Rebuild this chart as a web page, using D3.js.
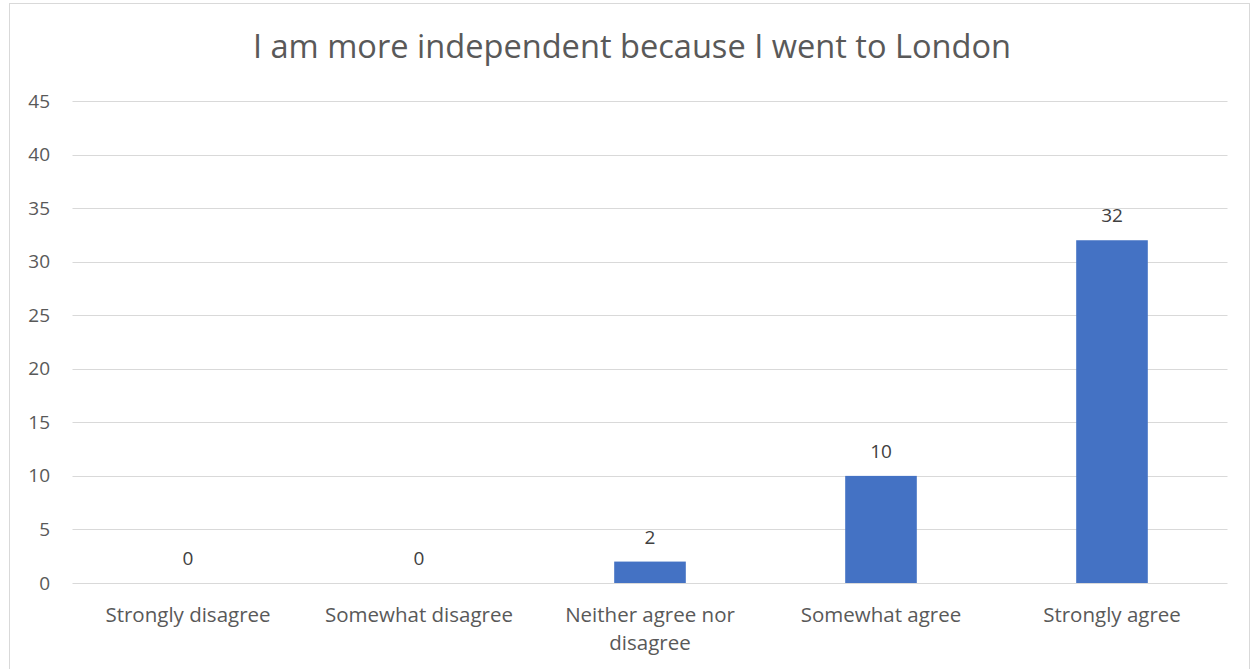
<!DOCTYPE html>
<html>
<head>
<meta charset="utf-8">
<script src="https://cdn.jsdelivr.net/npm/d3@7"></script>
<style>
  html, body { margin: 0; padding: 0; background: #fff; }
  svg { display: block; }
  text { font-family: "Open Sans", "Noto Sans", sans-serif; }
</style>
</head>
<body>
<svg id="chart" width="1252" height="669"></svg>
<script>
// Survey responses
const categories = [
  ["Strongly disagree"],
  ["Somewhat disagree"],
  ["Neither agree nor", "disagree"],
  ["Somewhat agree"],
  ["Strongly agree"]
];
const counts = [0, 0, 2, 10, 32];
const yTicks = [0, 5, 10, 15, 20, 25, 30, 35, 40, 45];
const chartTitle = "I am more independent because I went to London";

const svg = d3.select("#chart");
const plot = { left: 72.5, right: 1227.5, top: 101, bottom: 583 };

// Chart frame (bottom edge falls outside the view)
svg.append("rect")
  .attr("x", 9.5).attr("y", 3.5)
  .attr("width", 1240).attr("height", 700)
  .attr("fill", "#fff").attr("stroke", "#d9d9d9").attr("stroke-width", 1);

const labels = categories.map(c => c.join(" "));
const x = d3.scaleBand().domain(labels).range([plot.left, plot.right]).paddingInner(0).paddingOuter(0);
const y = d3.scaleLinear().domain([0, 45]).range([plot.bottom, plot.top]);

// Horizontal gridlines
svg.append("g")
  .selectAll("line")
  .data(yTicks)
  .join("line")
  .attr("x1", plot.left).attr("x2", plot.right)
  .attr("y1", d => Math.round(y(d)) + 0.5).attr("y2", d => Math.round(y(d)) + 0.5)
  .attr("stroke", "#d9d9d9").attr("stroke-width", 1);

// Y axis labels
const yAxis = d3.axisLeft(y).tickValues(yTicks).tickSize(0).tickPadding(0);
const yg = svg.append("g").attr("transform", "translate(50,0)").call(yAxis);
yg.select(".domain").remove();
yg.selectAll("text")
  .attr("fill", "#595959")
  .style("font-size", "19px")
  .style("font-family", "'Open Sans', sans-serif");

// Bars
const barW = x.bandwidth() * 0.31;
svg.append("g")
  .selectAll("rect")
  .data(counts)
  .join("rect")
  .attr("x", (d, i) => x(labels[i]) + (x.bandwidth() - barW) / 2)
  .attr("y", d => y(d))
  .attr("width", barW)
  .attr("height", d => y(0) - y(d))
  .attr("fill", "#4472c4");

// Value labels
svg.append("g")
  .selectAll("text")
  .data(counts)
  .join("text")
  .attr("x", (d, i) => x(labels[i]) + x.bandwidth() / 2)
  .attr("y", d => y(d) - 18)
  .attr("text-anchor", "middle")
  .attr("fill", "#404040")
  .style("font-size", "19px")
  .text(d => d);

// Category labels
const xg = svg.append("g");
categories.forEach((lines, i) => {
  const cx = x(labels[i]) + x.bandwidth() / 2;
  const t = xg.append("text")
    .attr("x", cx)
    .attr("y", 622)
    .attr("text-anchor", "middle")
    .attr("fill", "#595959")
    .style("font-size", "20.5px");
  lines.forEach((ln, j) => {
    t.append("tspan")
      .attr("x", cx)
      .attr("dy", j === 0 ? 0 : 28)
      .text(ln);
  });
});

// Title
svg.append("text")
  .attr("x", 632)
  .attr("y", 58)
  .attr("text-anchor", "middle")
  .attr("fill", "#595959")
  .style("font-size", "32.6px")
  .text(chartTitle);
</script>
</body>
</html>
